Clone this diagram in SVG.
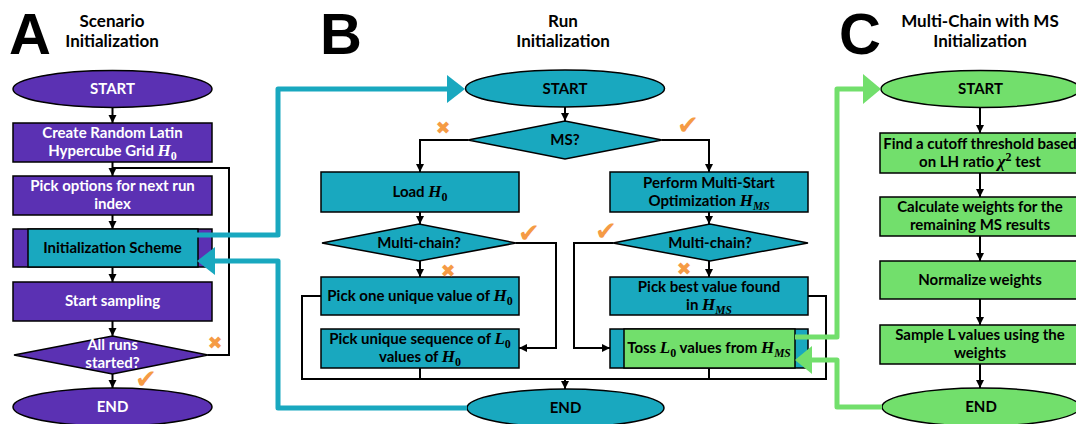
<svg xmlns="http://www.w3.org/2000/svg" width="1076" height="424" viewBox="0 0 1076 424">
  <defs>
    <marker id="ah" viewBox="0 0 10 10" refX="10" refY="5" markerWidth="4.2" markerHeight="4.2" orient="auto" markerUnits="strokeWidth">
      <path d="M0,0 L10,5 L0,10 z" fill="#000"/>
    </marker>
    <style>
      .pur { fill: #5B31B3; stroke: #000; stroke-width: 1.5; }
      .teal { fill: #19A8BF; stroke: #000; stroke-width: 1.5; }
      .grn { fill: #72DF6C; stroke: #000; stroke-width: 1.5; }
      .lbl { font-family: Lato, "Noto Sans", sans-serif; font-weight: bold; font-size: 15px; text-anchor: middle; }
      .w { fill: #fff; }
      .k { fill: #000; }
      .m { font-family: "Liberation Serif", serif; font-style: italic; font-weight: bold; font-size: 17px; }
      .ms { font-family: "Liberation Serif", serif; font-style: italic; font-weight: bold; font-size: 11.5px; }
      .sb { font-family: "Liberation Serif", serif; font-weight: bold; font-size: 12px; }
      .big { font-family: "Liberation Sans", Arial, sans-serif; font-weight: bold; font-size: 58px; fill: #000; }
      .ttl { font-family: Lato, "Noto Sans", sans-serif; font-weight: bold; font-size: 17px; text-anchor: middle; fill: #000; }
      .flow { fill: none; stroke: #000; stroke-width: 2; }
      .tealc { fill: none; stroke: #19A8BF; stroke-width: 5; stroke-linejoin: round; }
      .grnc { fill: none; stroke: #72DF6C; stroke-width: 5; stroke-linejoin: round; }
      .no { font-family: "DejaVu Sans", sans-serif; font-size: 18px; fill: #F59B45; text-anchor: middle; }
      .yes { font-family: "DejaVu Sans", sans-serif; font-size: 26px; fill: #F59B45; text-anchor: middle; }
    </style>
  </defs>

  <!-- panel letters and titles -->
  <text class="big" x="9" y="54">A</text>
  <text class="big" x="320" y="54">B</text>
  <text class="big" x="839" y="54">C</text>
  <text class="ttl" x="112" y="27">Scenario</text>
  <text class="ttl" x="112" y="47">Initialization</text>
  <text class="ttl" x="563" y="27">Run</text>
  <text class="ttl" x="563" y="47">Initialization</text>
  <text class="ttl" x="980" y="27">Multi-Chain with MS</text>
  <text class="ttl" x="980" y="47">Initialization</text>

  <!-- panel A: scenario initialization -->
  <g id="a-start"><ellipse class="pur" cx="112.5" cy="89" rx="99.5" ry="18.5"/><text class="lbl w" x="112.5" y="94">START</text></g>
  <g id="a-grid"><rect class="pur" x="13" y="123" width="199" height="39"/><text class="lbl w" x="112.5" y="138">Create Random Latin</text><text class="lbl w" x="112.5" y="156">Hypercube Grid <tspan class="m">H</tspan><tspan class="sb" dy="4">0</tspan></text></g>
  <g id="a-options"><rect class="pur" x="13" y="176" width="199" height="39"/><text class="lbl w" x="112.5" y="191">Pick options for next run</text><text class="lbl w" x="112.5" y="209">index</text></g>
  <g id="a-scheme"><rect class="pur" x="13" y="229" width="199" height="38"/><rect class="teal" x="28" y="229" width="170" height="38"/><text class="lbl k" x="112.5" y="253">Initialization Scheme</text></g>
  <g id="a-sampling"><rect class="pur" x="13" y="282" width="199" height="39"/><text class="lbl w" x="112.5" y="306">Start sampling</text></g>
  <g id="a-done"><polygon class="pur" points="14,355 112.5,336 208,355 112.5,374"/><text class="lbl w" x="112.5" y="350">All runs</text><text class="lbl w" x="112.5" y="368">started?</text></g>
  <g id="a-end"><ellipse class="pur" cx="112.5" cy="407" rx="99.5" ry="19"/><text class="lbl w" x="112.5" y="412">END</text></g>

  <!-- panel B: run initialization -->
  <g id="b-start"><ellipse class="teal" cx="565" cy="88.5" rx="99.5" ry="18.5"/><text class="lbl k" x="565" y="94">START</text></g>
  <g id="b-ms"><polygon class="teal" points="468,140 565,121 662,140 565,159"/><text class="lbl k" x="565" y="145">MS?</text></g>
  <g id="b-load"><rect class="teal" x="321" y="172" width="198" height="40"/><text class="lbl k" x="420" y="197">Load <tspan class="m">H</tspan><tspan class="sb" dy="4">0</tspan></text></g>
  <g id="b-optim"><rect class="teal" x="610" y="172" width="198" height="40"/><text class="lbl k" x="709" y="188">Perform Multi-Start</text><text class="lbl k" x="709" y="206">Optimization <tspan class="m">H</tspan><tspan class="ms" dy="4">MS</tspan></text></g>
  <g id="b-mc-left"><polygon class="teal" points="322,243 419,224 516,243 419,261"/><text class="lbl k" x="419" y="248">Multi-chain?</text></g>
  <g id="b-mc-right"><polygon class="teal" points="613,243 710,224 808,243 710,261"/><text class="lbl k" x="710" y="248">Multi-chain?</text></g>
  <g id="b-one"><rect class="teal" x="321" y="277" width="198" height="38"/><text class="lbl k" x="420" y="301">Pick one unique value of <tspan class="m">H</tspan><tspan class="sb" dy="4">0</tspan></text></g>
  <g id="b-seq"><rect class="teal" x="321" y="329" width="198" height="39"/><text class="lbl k" x="420" y="344">Pick unique sequence of <tspan class="m">L</tspan><tspan class="sb" dy="4">0</tspan></text><text class="lbl k" x="420" y="362">values of <tspan class="m">H</tspan><tspan class="sb" dy="4">0</tspan></text></g>
  <g id="b-best"><rect class="teal" x="610" y="277" width="198" height="38"/><text class="lbl k" x="709" y="292">Pick best value found</text><text class="lbl k" x="709" y="310">in <tspan class="m">H</tspan><tspan class="ms" dy="4">MS</tspan></text></g>
  <g id="b-toss"><rect class="teal" x="610" y="329" width="198" height="39"/><rect class="grn" x="624" y="329" width="171" height="39"/><text class="lbl k" x="709" y="353" font-size="14.5">Toss <tspan class="m">L</tspan><tspan class="sb" dy="4">0</tspan><tspan dy="-4"> values from </tspan><tspan class="m">H</tspan><tspan class="ms" dy="4">MS</tspan></text></g>
  <g id="b-end"><ellipse class="teal" cx="565.5" cy="408" rx="98.5" ry="19"/><text class="lbl k" x="565.5" y="413">END</text></g>

  <!-- panel C: multi-chain with MS initialization -->
  <g id="c-start"><ellipse class="grn" cx="980.5" cy="89" rx="99.5" ry="18.5"/><text class="lbl k" x="980.5" y="94">START</text></g>
  <g id="c-cutoff"><rect class="grn" x="880" y="133" width="200" height="40"/><text class="lbl k" x="980" y="149">Find a cutoff threshold based</text><text class="lbl k" x="980" y="167">on LH ratio <tspan class="m">χ</tspan><tspan class="sb" dy="-6">2</tspan><tspan dy="6"> test</tspan></text></g>
  <g id="c-weights"><rect class="grn" x="880" y="197" width="200" height="39"/><text class="lbl k" x="980" y="212">Calculate weights for the</text><text class="lbl k" x="980" y="230">remaining MS results</text></g>
  <g id="c-norm"><rect class="grn" x="880" y="261" width="200" height="38"/><text class="lbl k" x="980" y="285">Normalize weights</text></g>
  <g id="c-sample"><rect class="grn" x="880" y="325" width="200" height="39"/><text class="lbl k" x="980" y="340">Sample L values using the</text><text class="lbl k" x="980" y="358">weights</text></g>
  <g id="c-end"><ellipse class="grn" cx="981" cy="407" rx="99" ry="19"/><text class="lbl k" x="981" y="412">END</text></g>

  <!-- connectors -->
  <g id="connectors">
    <!-- panel A -->
    <path class="flow" d="M112.5 107.5 V123" marker-end="url(#ah)"/>
    <path class="flow" d="M112.5 162 V176" marker-end="url(#ah)"/>
    <path class="flow" d="M112.5 215 V229" marker-end="url(#ah)"/>
    <path class="flow" d="M112.5 267 V282" marker-end="url(#ah)"/>
    <path class="flow" d="M112.5 321 V336" marker-end="url(#ah)"/>
    <path class="flow" d="M112.5 374 V388" marker-end="url(#ah)"/>
    <path class="flow" d="M208 355 H229 V168 H112.5"/>
    <!-- panel B -->
    <path class="flow" d="M565 107 V121" marker-end="url(#ah)"/>
    <path class="flow" d="M468 140 H420 V172" marker-end="url(#ah)"/>
    <path class="flow" d="M662 140 H709 V172" marker-end="url(#ah)"/>
    <path class="flow" d="M420 212 V224" marker-end="url(#ah)"/>
    <path class="flow" d="M709 212 V224" marker-end="url(#ah)"/>
    <path class="flow" d="M420 261 V277" marker-end="url(#ah)"/>
    <path class="flow" d="M709 261 V277" marker-end="url(#ah)"/>
    <path class="flow" d="M516 243 H556 V348 H519" marker-end="url(#ah)"/>
    <path class="flow" d="M613 243 H574 V348 H610" marker-end="url(#ah)"/>
    <path class="flow" d="M321 296 H302 V379 H826 V296 H808"/>
    <path class="flow" d="M420 368 V379"/>
    <path class="flow" d="M709 368 V379"/>
    <path class="flow" d="M565 379 V389" marker-end="url(#ah)"/>
    <!-- panel C -->
    <path class="flow" d="M980 107.5 V133" marker-end="url(#ah)"/>
    <path class="flow" d="M980 173 V197" marker-end="url(#ah)"/>
    <path class="flow" d="M980 236 V261" marker-end="url(#ah)"/>
    <path class="flow" d="M980 299 V325" marker-end="url(#ah)"/>
    <path class="flow" d="M980 364 V388" marker-end="url(#ah)"/>
    <!-- cross-panel links -->
    <path class="tealc" d="M197 235 H278 V89 H449"/>
    <polygon points="447,75 465,89 447,103" fill="#19A8BF"/>
    <path class="tealc" d="M467 408 H278 V261 H213"/>
    <polygon points="215,247 197,261 215,275" fill="#19A8BF"/>
    <path class="grnc" d="M795 337 H837 V89 H865"/>
    <polygon points="863,74 881,89 863,104" fill="#72DF6C"/>
    <path class="grnc" d="M882 407 H837 V360 H810"/>
    <polygon points="812,346 795,360 812,374" fill="#72DF6C"/>
  </g>

  <!-- yes / no marks -->
  <text class="no" x="215" y="349">✖</text>
  <text class="yes" x="146" y="388">✔</text>
  <text class="no" x="443" y="134">✖</text>
  <text class="yes" x="688" y="134">✔</text>
  <text class="yes" x="529" y="242">✔</text>
  <text class="no" x="448" y="277">✖</text>
  <text class="yes" x="606" y="240">✔</text>
  <text class="no" x="684" y="275">✖</text>
</svg>
